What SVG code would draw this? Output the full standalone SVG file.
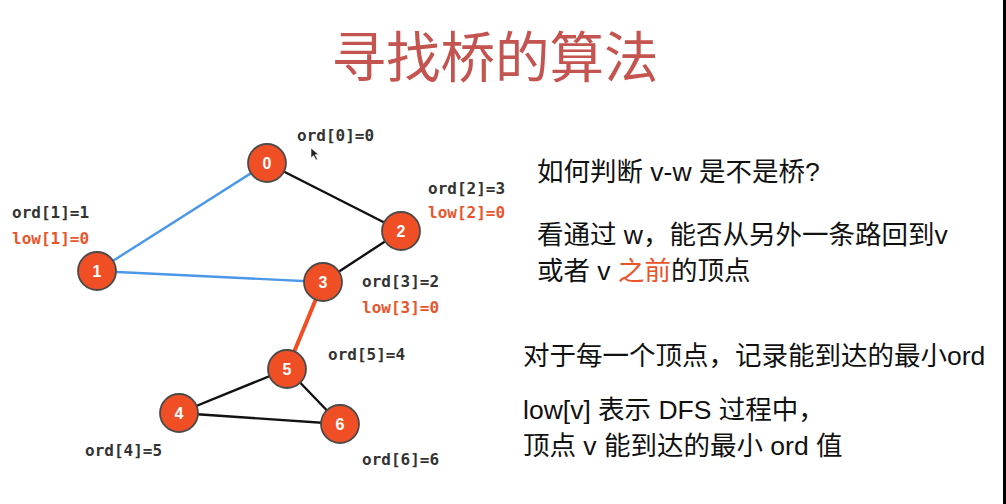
<svg xmlns="http://www.w3.org/2000/svg" width="1006" height="504" viewBox="0 0 1006 504">
  <style>
    .node circle { fill: #f04f25; stroke: #4a4a4a; stroke-width: 1.8; }
    .node text { fill: #ffffff; font-family: "Liberation Sans", "DejaVu Sans", sans-serif; font-size: 16px; font-weight: bold; text-anchor: middle; }
    .edge { stroke: #111111; stroke-width: 2.4; fill: none; }
    .edge.tree { stroke: #4a98e6; }
    .edge.bridge { stroke: #f04f25; stroke-width: 4; }
    .lbl { font-family: "DejaVu Sans Mono", "Liberation Mono", monospace; font-size: 16px; font-weight: bold; fill: #333333; }
    .lbl.low { fill: #e8552b; }
    .title { font-family: "Noto Sans CJK SC", sans-serif; font-size: 54.5px; fill: #c4544f; text-anchor: middle; }
    .note { font-family: "Liberation Sans", "Noto Sans CJK SC", sans-serif; font-size: 26.5px; fill: #111111; }
    .hl { fill: #e8552b; }
  </style>

  <rect x="0" y="0" width="1006" height="504" fill="#ffffff"/>
  <rect x="1003" y="0" width="3" height="504" fill="#000000"/>

  <text class="title" x="495" y="77">寻找桥的算法</text>

  <!-- connectors -->
  <g id="edges">
    <line class="edge tree" x1="267" y1="163" x2="97" y2="271"/>
    <line class="edge tree" x1="97" y1="271" x2="323" y2="282"/>
    <line class="edge" x1="267" y1="163" x2="401" y2="231"/>
    <line class="edge" x1="401" y1="231" x2="323" y2="282"/>
    <line class="edge bridge" x1="323" y1="282" x2="287" y2="369"/>
    <line class="edge" x1="287" y1="369" x2="179" y2="413"/>
    <line class="edge" x1="287" y1="369" x2="340" y2="424"/>
    <line class="edge" x1="179" y1="413" x2="340" y2="424"/>
  </g>

  <!-- vertices -->
  <g id="node-0" class="node"><circle cx="267" cy="163" r="19"/><text x="267" y="169">0</text></g>
  <g id="node-1" class="node"><circle cx="97" cy="271" r="19"/><text x="97" y="277">1</text></g>
  <g id="node-2" class="node"><circle cx="401" cy="231" r="19"/><text x="401" y="237">2</text></g>
  <g id="node-3" class="node"><circle cx="323" cy="282" r="19"/><text x="323" y="288">3</text></g>
  <g id="node-4" class="node"><circle cx="179" cy="413" r="19"/><text x="179" y="419">4</text></g>
  <g id="node-5" class="node"><circle cx="287" cy="369" r="19"/><text x="287" y="375">5</text></g>
  <g id="node-6" class="node"><circle cx="340" cy="424" r="19"/><text x="340" y="430">6</text></g>

  <!-- ord / low values -->
  <g id="labels">
    <text class="lbl" x="297" y="141">ord[0]=0</text>
    <text class="lbl" x="12" y="218">ord[1]=1</text>
    <text class="lbl low" x="12" y="244">low[1]=0</text>
    <text class="lbl" x="428" y="194">ord[2]=3</text>
    <text class="lbl low" x="428" y="218">low[2]=0</text>
    <text class="lbl" x="362" y="287">ord[3]=2</text>
    <text class="lbl low" x="362" y="313">low[3]=0</text>
    <text class="lbl" x="328" y="360">ord[5]=4</text>
    <text class="lbl" x="85" y="456">ord[4]=5</text>
    <text class="lbl" x="362" y="465">ord[6]=6</text>
  </g>

  <!-- pointer -->
  <path d="M311 148 L311 158 L313.5 155.5 L316 160 L317.5 159.2 L315.2 154.8 L318.5 154.5 Z" fill="#222222" stroke="#ffffff" stroke-width="0.6"/>

  <!-- explanation -->
  <g id="notes">
    <text class="note" x="537" y="181">如何判断 v-w 是不是桥?</text>
    <text class="note" x="537" y="244">看通过 w，能否从另外一条路回到v</text>
    <text class="note" x="537" y="280">或者 v <tspan class="hl">之前</tspan>的顶点</text>
    <text class="note" x="523" y="365">对于每一个顶点，记录能到达的最小ord</text>
    <text class="note" x="523" y="419">low[v] 表示 DFS 过程中，</text>
    <text class="note" x="523" y="455">顶点 v 能到达的最小 ord 值</text>
  </g>
</svg>
